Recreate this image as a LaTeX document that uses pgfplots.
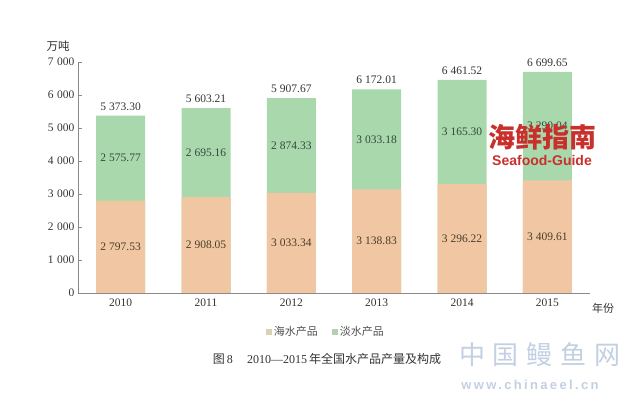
\documentclass[border=0pt]{standalone}
\usepackage{pgfplots}
\usepackage{pgfplotstable}
\pgfplotsset{compat=1.18}
\usepackage{fontspec}
\setmainfont{Liberation Serif}
\newfontfamily\cjk{Noto Sans CJK SC}
\newfontfamily\wsans{Liberation Sans}

\definecolor{seac}{HTML}{F0C7A2}
\definecolor{freshc}{HTML}{A9D8AD}
\definecolor{axisc}{HTML}{8A8A8A}
\definecolor{txtc}{HTML}{333333}
\definecolor{seatxt}{HTML}{4A3C28}
\definecolor{freshtxt}{HTML}{34483A}
\definecolor{legsea}{HTML}{DCCFB4}
\definecolor{legfresh}{HTML}{B7CDB4}
\definecolor{wmred}{HTML}{C9302C}
\definecolor{wmblue}{HTML}{C3D0E2}

\pgfplotstableread{
idx sea fresh total
0 2797.53 2575.77 5373.30
1 2908.05 2695.16 5603.21
2 3033.34 2874.33 5907.67
3 3138.83 3033.18 6172.01
4 3296.22 3165.30 6461.52
5 3409.61 3290.04 6699.65
}\datatable

\begin{document}
\begin{tikzpicture}
\useasboundingbox (0pt,0pt) rectangle (625pt,397pt);
\begin{axis}[
  at={(78pt,104pt)}, anchor=south west,
  scale only axis, width=512pt, height=231pt,
  xmin=-0.5, xmax=5.5, ymin=0, ymax=7000,
  axis x line*=bottom, axis y line*=left,
  axis line style={axisc, line width=0.8pt, -},
  xtick={0,...,5}, xticklabels={2010,2011,2012,2013,2014,2015},
  xtick style={draw=none},
  ytick={0,1000,...,7000},
  scaled y ticks=false,
  tick align=inside, major tick length=4pt,
  ytick style={axisc, line width=0.8pt},
  ticklabel style={font=\fontsize{11.5}{12}\selectfont, text=txtc},
  yticklabel style={/pgf/number format/.cd, 1000 sep={\hspace{3.5pt}}, assume math mode=true},
  xticklabel style={yshift=-2pt},
  legend image code/.code={\fill[#1, draw=none] (0pt,-3pt) rectangle (6pt,3pt);},
  legend style={at={(0.484,-0.169)}, anchor=center, draw=none, fill=none,
    legend columns=2, font=\cjk\fontsize{11}{12}\selectfont, text=txtc!85,
    /tikz/every even column/.append style={column sep=12pt},
    /tikz/every odd column/.append style={column sep=0pt}},
  clip=false,
]
\addplot[ybar, bar width=49pt, bar shift=0pt, fill=freshc, draw=none, forget plot]
  table[x=idx, y=total]{\datatable};
\addplot[ybar, bar width=49pt, bar shift=0pt, fill=seac, draw=none, forget plot]
  table[x=idx, y=sea]{\datatable};

\addplot[only marks, mark=none, forget plot, point meta=explicit,
  nodes near coords={\pgfmathprintnumber[fixed,fixed zerofill,precision=2,1000 sep={\hspace{3pt}},assume math mode=true]{\pgfplotspointmeta}},
  every node near coord/.append style={anchor=center, font=\fontsize{11.5}{12}\selectfont, text=seatxt}]
  table[x=idx, y expr=\thisrow{sea}/2, meta=sea]{\datatable};
\addplot[only marks, mark=none, forget plot, point meta=explicit,
  nodes near coords={\pgfmathprintnumber[fixed,fixed zerofill,precision=2,1000 sep={\hspace{3pt}},assume math mode=true]{\pgfplotspointmeta}},
  every node near coord/.append style={anchor=center, font=\fontsize{11.5}{12}\selectfont, text=freshtxt}]
  table[x=idx, y expr=\thisrow{sea}+\thisrow{fresh}/2, meta=fresh]{\datatable};
\addplot[only marks, mark=none, forget plot, point meta=explicit,
  nodes near coords={\pgfmathprintnumber[fixed,fixed zerofill,precision=2,1000 sep={\hspace{3pt}},assume math mode=true]{\pgfplotspointmeta}},
  every node near coord/.append style={anchor=south, inner sep=1pt, yshift=4pt, font=\fontsize{11.5}{12}\selectfont, text=txtc}]
  table[x=idx, y=total, meta=total]{\datatable};

\addlegendimage{fill=legsea}
\addlegendentry{海水产品}
\addlegendimage{fill=legfresh}
\addlegendentry{淡水产品}
\end{axis}

\node[font=\cjk\fontsize{11.5}{12}\selectfont, text=txtc] at (58pt,351pt) {万吨};
\node[font=\cjk\fontsize{11}{12}\selectfont, text=txtc] at (603pt,89pt) {年份};
\node[font=\fontsize{12}{14}\selectfont, text=txtc] at (327pt,38pt)
  {{\cjk 图}\,8\hspace{1.2em}2010—2015\,{\cjk 年全国水产品产量及构成}};

% watermarks
\node[font=\cjk\bfseries\fontsize{27}{28}\selectfont, text=wmred] at (542pt,260pt) {海鲜指南};
\node[font=\wsans\bfseries\fontsize{14}{15}\selectfont, text=wmred] at (542pt,237pt) {Seafood-Guide};
\node[font=\cjk\fontsize{26}{28}\selectfont, text=wmblue] at (540pt,42pt) {中\hspace{8pt}国\hspace{8pt}鳗\hspace{8pt}鱼\hspace{8pt}网};
\node[font=\wsans\bfseries\fontsize{13}{14}\selectfont, text=wmblue] at (530pt,12pt) {\addfontfeatures{LetterSpace=18}www.chinaeel.cn};
\end{tikzpicture}
\end{document}
